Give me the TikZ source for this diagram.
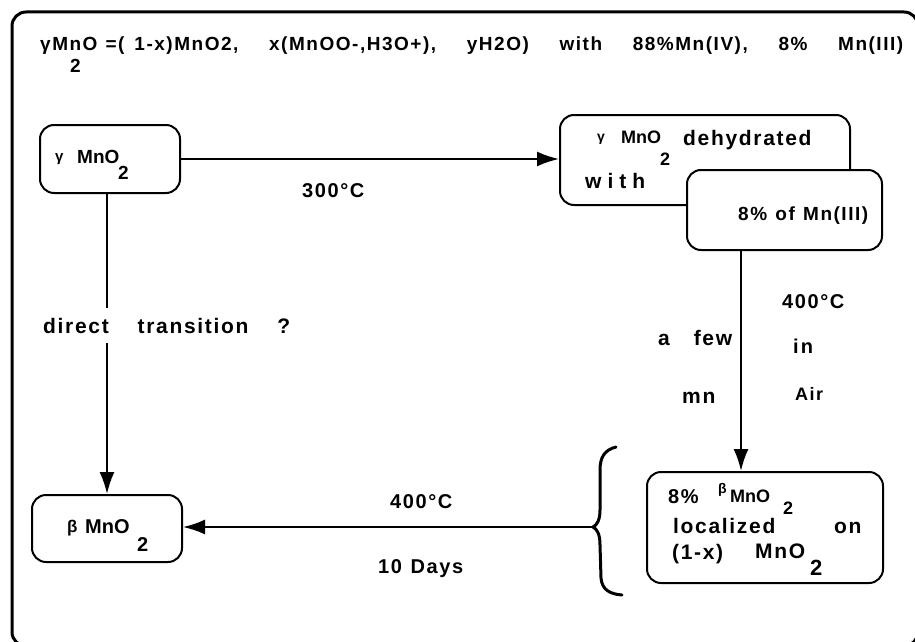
\documentclass[tikz,border=0pt]{standalone}
\usepackage{fontspec}
\setmainfont{Liberation Sans}[LetterSpace=8]
\newfontfamily\tight{Liberation Sans}
\usetikzlibrary{arrows.meta}
\newcommand\tbx[2]{\makebox[#1pt][s]{\frenchspacing\spaceskip=0pt plus 1fil minus 1fil\relax #2}}
\newcommand\wg{\hspace{0pt plus 1fil minus 1fil}}
\newcommand\fs[1]{\fontsize{#1}{#1}\selectfont}
\begin{document}
\begin{tikzpicture}[x=1pt,y=-1pt,
  box/.style={draw, line width=2pt, rounded corners=14pt, inner sep=0pt},
  txt/.style={inner sep=0pt, anchor=base west},
  arr/.style={line width=2pt, -{Latex[length=22pt,width=15pt]}},
  bracepath/.style={line width=3pt, line cap=round}]
\useasboundingbox (0,0) rectangle (915,642);
\clip (0,0) rectangle (915,642);
% outer frame
\draw[line width=3pt, rounded corners=14pt] (12,12) rectangle (918,646);
% title
\node[txt, font={\bfseries\fs{19}}] (title) at (40,51) {\tbx{863}{γMnO\hspace{8pt}=(\hspace{10pt}1-x)MnO2,\wg x(MnOO-,H3O+),\wg yH2O)\wg with\wg 88\%Mn(IV),\wg 8\%\wg Mn(III)}};
\node[txt, font={\bfseries\fs{19}}] (title2) at (70,72) {2};
% boxes
\node[box, minimum width=140pt, minimum height=68pt] (g) at (110,159) {};
\node[box, minimum width=290pt, minimum height=90pt] (d) at (705,160) {};
\node[box, fill=white, minimum width=195pt, minimum height=80pt] (m) at (784.5,210) {};
\node[box, minimum width=236pt, minimum height=111pt] (e) at (765,527.5) {};
\node[box, minimum width=150pt, minimum height=67pt] (b) at (107,528.5) {};
% box 1 text
\node[txt, font={\tight\bfseries\fs{15}}] (g1) at (55,161) {γ};
\node[txt, font={\tight\bfseries\fs{19}}] (g2) at (77,163) {MnO};
\node[txt, font={\tight\bfseries\fs{19}}] (g3) at (118,179) {2};
% box 2 text
\node[txt, font={\tight\bfseries\fs{14}}] (d1) at (597,141) {γ};
\node[txt, font={\tight\bfseries\fs{18}}] (d2) at (621,143) {MnO};
\node[txt, font={\tight\bfseries\fs{18}}] (d3) at (660,165) {2};
\node[txt, font={\bfseries\fs{21}}] (d4) at (683,145) {dehydrated};
\node[txt, font={\bfseries\fs{21}}] (d5) at (585,188) {\tbx{60}{w i t h}};
% box 3 text
\node[txt, font={\bfseries\fs{19}}] (m1) at (738,220) {\tbx{130}{8\%\wg of\wg Mn(III)}};
% box 4 text
\node[txt, font={\bfseries\fs{20}}] (e1) at (668,503) {8\%};
\node[txt, font={\tight\bfseries\fs{14}}] (e2) at (718,493) {β};
\node[txt, font={\tight\bfseries\fs{18}}] (e3) at (730,502) {MnO};
\node[txt, font={\tight\bfseries\fs{18}}] (e4) at (783,514) {2};
\node[txt, font={\bfseries\fs{21}}] (e5) at (673,533) {localized};
\node[txt, font={\bfseries\fs{21}}] (e6) at (834,533) {on};
\node[txt, font={\bfseries\fs{21}}] (e7) at (672,559) {(1-x)};
\node[txt, font={\bfseries\fs{21}}] (e8) at (755,558) {MnO};
\node[txt, font={\tight\bfseries\fs{22}}] (e9) at (810,575) {2};
% box 5 text
\node[txt, font={\tight\bfseries\fs{17}}] (b1) at (67,532) {β};
\node[txt, font={\tight\bfseries\fs{20}}] (b2) at (85,533) {MnO};
\node[txt, font={\tight\bfseries\fs{20}}] (b3) at (137,551) {2};
% connectors
\coordinate (vl) at (107,0);
\coordinate (vr) at (741,0);
\coordinate (bt) at (593,527);
\draw[arr] (g.east) -- (g.east -| d.west);
\draw[arr] (g.south -| vl) -- (b.north -| vl);
\draw[arr] (m.south -| vr) -- (e.north -| vr);
\draw[arr] (bt) -- (bt -| b.east);
% brace
\draw[bracepath] (616,447) .. controls (604,450) and (600,458) .. (600,470) -- (600,510) .. controls (600,520) and (597,525) .. (bt) .. controls (597,529) and (600,534) .. (600,545) -- (601,578) .. controls (602,590) and (610,594) .. (622,595);
% labels
\node[txt, font={\bfseries\fs{20}}] (l300) at (302,197) {300°C};
\node[txt, fill=white, inner xsep=2pt, inner ysep=10pt, font={\bfseries\fs{21}}] (ldir) at (41,333) {\tbx{247}{direct\wg transition\wg ?}};
\node[txt, font={\bfseries\fs{20}}] (l400r) at (782,308) {400°C};
\node[txt, font={\bfseries\fs{20}}] (lin) at (793,353) {\tbx{20}{i n}};
\node[txt, font={\bfseries\fs{18}}] (lair) at (795,400) {Air};
\node[txt, font={\bfseries\fs{21}}] (lfew) at (658,345) {\tbx{74}{a\wg few}};
\node[txt, font={\bfseries\fs{21}}] (lmn) at (682,403) {mn};
\node[txt, font={\bfseries\fs{20}}] (l400b) at (390,508) {400°C};
\node[txt, font={\bfseries\fs{20}}] (ldays) at (378,573) {\tbx{85}{10\wg Days}};
\end{tikzpicture}
\end{document}
